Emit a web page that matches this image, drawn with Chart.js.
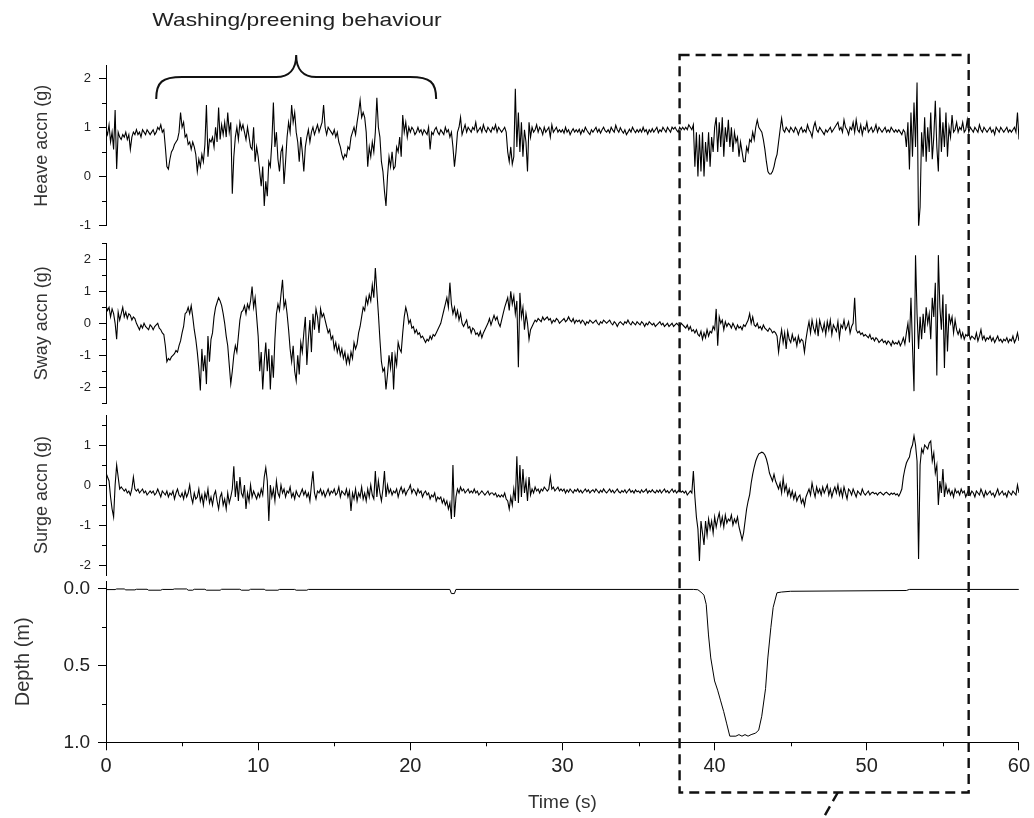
<!DOCTYPE html>
<html>
<head>
<meta charset="utf-8">
<script src="https://cdn.jsdelivr.net/npm/chart.js@4.4.0/dist/chart.umd.min.js"></script>
<style>
  html, body { margin: 0; padding: 0; background: #fff; }
  #wrap { position: relative; width: 1034px; height: 818px; overflow: hidden; }
  #wrap canvas { position: absolute; left: 0; top: 0; }
  #note {
    position: absolute; left: 297px; top: 9px;
    font: 19px "Liberation Sans", Arial, sans-serif; line-height: 22px; color: #222;
    white-space: nowrap; transform: translateX(-50%) scaleX(1.2);
  }
</style>
</head>
<body>
<div id="wrap">
  <canvas id="heaveChart" width="1034" height="818"></canvas>
  <canvas id="swayChart" width="1034" height="818"></canvas>
  <canvas id="surgeChart" width="1034" height="818"></canvas>
  <canvas id="depthChart" width="1034" height="818"></canvas>
  <div id="note">Washing/preening behaviour</div>
</div>
<script>
// ── Data (accelerations sampled every 0.1 s, one row per second) ──
const sampleStep = 0.1;

const heave = [
  0.95,0.85,1.05,0.7,0.9,0.55,1.35,0.15,0.9,0.8,
  0.75,0.85,0.8,0.9,0.75,0.85,0.55,0.8,0.9,0.85,
  0.95,0.85,0.9,0.8,0.95,0.9,0.85,0.95,0.9,0.85,
  0.9,0.95,0.85,0.9,1.0,0.95,1.05,0.9,0.95,0.6,
  0.2,0.15,0.35,0.5,0.55,0.65,0.7,0.75,0.9,1.3,
  1.0,1.1,0.8,0.85,0.65,0.7,0.55,0.7,0.6,0.45,
  0.1,0.35,0.2,0.45,0.3,0.65,1.45,0.4,0.75,0.7,
  0.8,0.6,1.0,0.7,1.4,0.75,1.05,0.85,1.1,0.8,
  1.3,0.9,1.1,-0.35,0.4,0.8,1.0,0.75,1.1,0.95,
  1.05,0.9,0.75,1.0,0.8,0.6,0.55,1.0,0.3,0.6,
  0.4,0.1,-0.2,0.2,-0.6,-0.1,-0.4,0.3,0.2,0.7,
  1.5,0.6,0.9,0.35,0.1,0.5,0.6,-0.15,0.3,0.8,
  1.1,0.9,1.45,1.1,1.3,0.9,0.7,0.3,0.8,0.5,
  0.1,0.6,0.8,0.95,0.7,0.9,1.0,0.85,0.95,1.05,
  0.9,1.0,1.1,1.45,1.0,0.85,1.0,0.95,0.9,0.85,
  0.95,0.8,0.9,0.7,0.6,0.45,0.35,0.45,0.4,0.6,
  0.55,0.8,0.9,1.0,0.85,1.1,1.3,1.55,1.2,1.3,
  1.2,0.9,0.2,0.6,0.4,0.7,0.5,0.9,1.6,1.0,
  0.8,0.3,0.1,-0.3,-0.6,0.0,0.4,0.2,0.5,0.15,
  0.2,0.6,0.5,0.8,0.4,1.25,0.9,1.1,0.8,1.0,
  0.9,1.0,0.95,0.85,0.9,1.0,0.9,0.95,0.85,0.95,
  0.9,0.85,1.0,0.55,0.9,0.85,0.95,1.0,0.9,0.85,
  0.95,0.9,0.85,1.0,0.9,0.95,0.8,0.9,0.6,0.2,
  0.5,0.9,1.0,1.2,0.85,0.95,1.05,0.9,1.0,0.95,
  0.9,1.0,0.95,1.1,0.9,0.95,1.0,0.9,1.05,0.95,
  0.9,1.0,0.95,0.9,1.0,0.95,1.05,0.9,1.0,0.95,
  0.9,0.95,1.0,0.9,0.5,0.3,0.6,0.25,0.4,1.78,
  0.6,1.3,0.5,1.1,0.4,0.95,0.7,0.1,1.1,0.8,
  1.0,0.9,0.95,1.05,0.9,1.0,0.95,0.85,1.0,0.9,
  0.95,1.0,0.8,1.05,0.9,0.95,1.0,0.9,0.95,0.9,
  0.95,0.88,1.0,0.9,0.95,0.85,0.92,0.97,0.9,0.95,
  0.9,0.96,0.86,0.95,0.9,1.0,0.94,0.89,0.85,0.95,
  0.9,0.95,1.0,0.9,0.96,0.88,0.95,1.0,0.93,0.9,
  0.95,0.89,1.0,0.94,0.9,1.04,0.95,0.9,0.99,0.93,
  0.88,0.95,0.85,0.9,0.96,0.9,1.0,0.94,0.89,0.95,
  0.9,0.96,0.9,1.0,0.91,0.95,0.86,0.95,0.9,0.97,
  0.9,0.95,1.0,0.89,0.95,0.91,1.0,0.95,0.9,1.0,
  0.95,0.9,1.0,0.96,1.0,0.94,0.9,1.0,0.95,1.0,
  0.95,1.0,0.95,1.05,1.0,0.95,1.05,0.2,0.9,0.0,
  0.85,0.1,0.9,0.0,0.7,0.3,0.9,0.2,0.8,0.5,
  1.0,1.2,0.5,1.1,0.6,1.2,0.4,1.0,0.7,1.15,
  0.6,1.0,0.5,0.9,0.7,0.8,0.4,0.7,0.5,0.3,
  0.3,0.6,0.5,0.75,0.7,0.9,0.75,1.0,1.15,1.0,
  0.95,0.9,0.75,0.55,0.3,0.1,0.05,0.05,0.1,0.2,
  0.35,0.45,0.7,0.95,1.18,0.95,0.9,1.0,0.95,0.9,
  1.0,0.95,0.9,1.0,0.95,0.85,0.95,1.0,0.9,0.95,
  0.9,1.05,0.95,0.9,0.8,1.0,1.1,0.95,0.9,1.0,
  0.95,0.9,0.85,0.95,0.9,0.95,1.0,0.9,0.95,1.0,
  1.05,1.1,0.95,1.0,0.9,1.15,1.0,0.95,0.85,1.0,
  0.95,1.1,0.9,1.15,0.95,0.9,1.05,0.85,1.0,0.95,
  1.1,0.9,0.95,1.0,0.9,0.95,1.05,0.9,1.0,0.95,
  0.9,0.95,1.0,0.9,0.95,0.9,1.0,0.95,0.9,0.95,
  0.9,0.95,0.9,0.85,0.95,0.9,0.6,1.1,0.14,1.3,
  0.4,1.5,0.6,1.91,-1.04,-0.62,0.9,0.4,1.2,0.3,
  1.0,0.5,1.3,0.35,0.8,1.54,0.6,0.1,1.4,0.5,
  1.1,0.6,1.3,0.4,1.0,0.8,1.25,0.9,0.95,1.1,
  0.9,1.0,0.95,1.1,0.9,0.95,1.15,0.9,1.0,0.95,
  0.9,1.0,0.95,0.9,1.05,0.95,0.9,1.0,0.95,0.9,
  0.95,1.0,0.9,0.95,0.85,1.0,0.95,0.9,1.0,0.95,
  0.9,0.95,1.0,0.9,0.95,0.9,0.95,1.0,0.9,1.3,
  0.75
];

const sway = [
  0.55,0.4,0.5,0.2,0.45,0.3,0.0,-0.5,0.35,0.1,
  0.3,0.5,0.2,0.35,0.15,0.3,0.25,0.1,0.2,0.15,
  0.0,-0.1,-0.2,-0.05,-0.15,0.0,-0.1,-0.15,-0.2,-0.05,
  -0.1,-0.2,-0.1,-0.05,0.0,-0.15,-0.2,-0.3,-0.35,-0.7,
  -1.2,-1.1,-1.15,-1.05,-1.0,-0.95,-0.85,-0.9,-0.7,-0.55,
  -0.3,-0.1,0.3,0.35,0.5,0.3,0.55,0.2,-0.2,-0.5,
  -0.9,-1.4,-2.1,-0.8,-1.5,-1.0,-1.9,-0.4,-1.2,-0.5,
  -0.3,0.2,0.5,0.65,0.8,0.7,0.55,0.3,0.0,-0.4,
  -0.7,-1.3,-1.89,-1.5,-1.0,-0.7,-0.9,-0.4,0.1,0.35,
  0.4,0.55,0.3,0.6,0.45,0.7,1.15,0.5,0.8,0.2,
  -0.4,-1.5,-0.9,-2.07,-1.2,-0.6,-1.5,-0.8,-2.07,-1.0,
  -1.7,-0.5,0.3,0.6,0.4,0.9,1.36,0.5,0.7,0.3,
  -0.2,-0.8,-1.2,-0.7,-1.5,-1.8,-1.0,-1.6,-0.6,-0.9,
  -0.3,0.2,-1.3,-0.5,0.1,-0.9,0.3,-0.2,0.45,0.2,
  -0.3,0.45,0.2,0.3,0.1,-0.1,-0.3,-0.2,-0.5,-0.4,
  -0.8,-0.6,-0.9,-0.7,-1.0,-0.8,-1.1,-0.9,-1.25,-1.0,
  -1.25,-0.9,-1.1,-0.6,-0.8,-0.65,-0.3,-0.1,0.2,0.5,
  0.4,0.8,0.6,0.9,0.7,1.2,0.8,1.73,1.0,0.3,
  -0.5,-1.2,-1.5,-1.4,-2.07,-1.6,-1.0,-1.4,-0.9,-2.07,
  -1.0,-1.3,-0.6,-0.8,-0.9,-0.3,0.2,0.5,0.3,0.0,
  0.1,-0.15,-0.1,-0.3,-0.2,-0.35,-0.3,-0.45,-0.4,-0.5,
  -0.6,-0.5,-0.55,-0.4,-0.5,-0.35,-0.4,-0.3,-0.2,-0.1,
  0.0,0.2,0.4,0.6,0.8,0.5,1.27,0.6,0.3,0.5,
  0.2,0.4,0.1,0.3,0.0,-0.1,0.0,0.1,-0.15,-0.1,
  -0.3,-0.15,-0.2,-0.35,-0.3,-0.4,-0.25,-0.45,-0.3,-0.2,
  -0.1,0.0,0.15,-0.05,0.1,0.25,0.1,0.2,0.0,-0.1,
  0.1,0.3,0.5,0.65,0.8,0.4,1.0,0.6,0.85,0.3,
  0.7,-1.37,0.95,0.2,0.5,-0.2,0.3,0.0,-0.5,-0.2,
  -0.1,0.0,0.1,0.05,0.15,0.1,0.05,0.2,0.1,0.15,
  0.2,0.1,0.15,0.0,0.1,0.05,0.15,0.1,0.0,0.05,
  0.1,0.15,0.05,0.1,0.2,0.1,0.05,0.15,0.0,0.1,
  0.05,0.1,0.0,0.1,0.05,-0.05,0.05,0.0,0.1,0.05,
  0.0,0.05,0.1,0.0,-0.05,0.05,0.0,0.1,0.05,0.0,
  0.05,0.1,0.0,-0.05,0.05,0.0,-0.1,0.0,0.05,0.0,
  -0.05,0.05,0.0,0.1,0.0,-0.05,0.05,0.0,-0.05,0.05,
  0.0,-0.05,0.05,0.0,-0.1,0.0,-0.05,0.05,0.0,-0.05,
  0.0,-0.1,-0.05,0.0,0.05,-0.05,0.0,-0.1,-0.05,0.0,
  -0.1,-0.05,0.0,-0.1,-0.05,0.0,-0.05,-0.1,0.0,-0.05,
  -0.1,-0.15,-0.05,-0.2,-0.1,-0.25,-0.2,-0.3,-0.2,-0.35,
  -0.4,-0.25,-0.5,-0.3,-0.45,-0.2,-0.4,-0.25,-0.3,-0.1,
  -0.2,0.45,-0.7,0.2,0.0,0.1,-0.2,0.05,-0.1,0.0,
  -0.05,-0.15,0.0,-0.1,-0.2,-0.05,-0.15,-0.1,-0.2,-0.05,
  -0.1,0.0,0.1,0.3,0.0,0.2,-0.05,-0.1,0.0,-0.15,
  -0.1,-0.2,-0.05,-0.15,-0.2,-0.25,-0.15,-0.2,-0.3,-0.25,
  -0.3,-0.4,-0.9,-0.5,-0.2,-0.6,-0.3,-0.8,-0.25,-0.5,
  -0.6,-0.35,-0.55,-0.45,-0.7,-0.4,-0.6,-0.5,-0.55,-0.9,
  -0.5,-0.2,0.05,-0.3,0.1,-0.15,-0.3,0.05,-0.4,0.1,
  -0.1,-0.25,0.0,-0.35,0.05,-0.2,0.1,-0.35,-0.05,-0.15,
  -0.25,0.05,-0.45,-0.05,-0.15,0.1,-0.2,-0.1,0.05,-0.3,
  -0.1,0.0,0.8,-0.2,-0.3,-0.25,-0.35,-0.3,-0.4,-0.35,
  -0.4,-0.45,-0.35,-0.5,-0.45,-0.55,-0.45,-0.5,-0.6,-0.55,
  -0.5,-0.6,-0.55,-0.65,-0.55,-0.6,-0.7,-0.55,-0.65,-0.6,
  -0.65,-0.55,-0.7,-0.6,-0.45,-0.65,-0.3,0.0,-0.6,0.8,
  -0.7,-2.12,2.13,0.3,-0.8,0.2,-0.5,0.3,-0.3,0.5,
  0.0,0.3,-0.5,0.8,0.2,1.27,-1.63,2.13,0.5,-0.2,
  0.9,-1.4,0.6,-0.88,0.3,0.0,0.2,-0.3,0.1,-0.2,
  -0.35,-0.2,-0.45,-0.3,-0.5,-0.35,-0.4,-0.3,-0.5,-0.4,
  -0.45,-0.5,-0.3,-0.55,-0.4,-0.2,-0.5,-0.4,-0.55,-0.45,
  -0.5,-0.4,-0.55,-0.45,-0.6,-0.5,-0.4,-0.55,-0.5,-0.6,
  -0.5,-0.55,-0.45,-0.6,-0.5,-0.55,-0.4,-0.6,-0.5,-0.3,
  -0.55
];

const surge = [
  0.3,0.2,0.1,-0.3,-0.6,-0.8,0.0,0.5,0.2,-0.1,
  -0.05,-0.1,-0.15,-0.1,-0.2,-0.15,-0.25,-0.1,0.2,-0.1,
  -0.15,-0.1,-0.2,-0.15,-0.1,-0.2,-0.15,-0.25,-0.2,-0.15,
  -0.2,-0.15,-0.25,-0.2,-0.1,-0.2,-0.3,-0.15,-0.2,-0.25,
  -0.15,-0.3,-0.2,-0.25,-0.15,-0.35,-0.2,-0.1,-0.25,-0.3,
  -0.2,-0.35,-0.15,-0.3,-0.2,0.0,-0.3,-0.45,-0.2,-0.35,
  -0.3,-0.1,-0.4,-0.25,-0.5,-0.2,-0.35,-0.1,-0.45,-0.3,
  -0.5,-0.25,-0.15,-0.4,-0.6,-0.3,-0.2,-0.5,-0.35,-0.6,
  -0.2,-0.45,-0.3,-0.1,0.47,-0.3,0.1,-0.4,0.2,-0.2,
  -0.3,0.0,-0.6,-0.2,-0.4,0.0,-0.3,-0.15,-0.25,-0.35,
  -0.2,-0.3,-0.1,-0.25,0.2,0.43,0.1,-0.9,0.0,-0.3,
  -0.1,-0.4,0.1,-0.2,-0.3,0.0,-0.2,-0.1,-0.3,-0.15,
  -0.2,-0.05,-0.3,-0.2,-0.35,-0.15,-0.25,-0.3,-0.2,-0.1,
  -0.25,-0.15,-0.3,-0.2,-0.4,0.0,0.34,-0.2,-0.35,-0.15,
  -0.2,-0.1,-0.25,-0.15,-0.3,-0.2,-0.1,-0.25,-0.15,-0.2,
  -0.1,-0.25,-0.2,-0.05,-0.3,-0.15,-0.2,-0.25,-0.1,-0.3,
  -0.15,-0.65,-0.2,-0.35,-0.1,-0.4,-0.2,-0.3,-0.05,-0.35,
  -0.2,-0.4,-0.1,-0.3,0.0,-0.25,-0.35,0.35,-0.3,0.1,
  -0.2,-0.4,-0.1,0.35,-0.3,0.0,-0.2,-0.1,-0.25,-0.15,
  -0.2,-0.1,-0.3,-0.15,-0.05,-0.2,-0.1,-0.25,-0.15,-0.1,
  0.0,-0.2,-0.1,-0.15,-0.25,-0.1,-0.2,-0.15,-0.3,-0.2,
  -0.15,-0.25,-0.2,-0.35,-0.25,-0.3,-0.2,-0.4,-0.3,-0.35,
  -0.3,-0.45,-0.35,-0.5,-0.4,-0.6,-0.45,-0.85,0.5,-0.8,
  -0.3,-0.1,-0.2,-0.05,-0.15,-0.1,-0.2,-0.15,-0.1,-0.2,
  -0.15,-0.2,-0.1,-0.2,-0.15,-0.25,-0.2,-0.15,-0.2,-0.25,
  -0.2,-0.15,-0.25,-0.2,-0.2,-0.25,-0.2,-0.3,-0.25,-0.3,
  -0.25,-0.3,-0.2,-0.35,-0.4,-0.6,-0.3,-0.5,-0.1,-0.4,
  0.72,-0.45,0.5,-0.3,0.4,-0.2,0.1,-0.4,0.2,-0.25,
  -0.1,-0.2,-0.05,-0.15,-0.1,-0.2,-0.1,-0.15,-0.05,-0.1,
  -0.15,-0.1,0.2,-0.1,-0.05,-0.15,-0.1,-0.05,-0.15,-0.1,
  -0.15,-0.1,-0.2,-0.12,-0.18,-0.1,-0.15,-0.2,-0.12,-0.16,
  -0.1,-0.18,-0.13,-0.2,-0.15,-0.1,-0.17,-0.12,-0.2,-0.15,
  -0.12,-0.18,-0.1,-0.15,-0.2,-0.13,-0.18,-0.1,-0.16,-0.2,
  -0.15,-0.1,-0.18,-0.13,-0.2,-0.15,-0.1,-0.17,-0.2,-0.14,
  -0.18,-0.12,-0.2,-0.15,-0.1,-0.18,-0.14,-0.2,-0.12,-0.17,
  -0.15,-0.2,-0.12,-0.18,-0.15,-0.1,-0.2,-0.14,-0.18,-0.12,
  -0.17,-0.2,-0.13,-0.18,-0.12,-0.2,-0.15,-0.1,-0.18,-0.14,
  -0.2,-0.15,-0.1,-0.18,-0.13,-0.2,-0.15,-0.12,-0.18,-0.15,
  -0.2,-0.15,-0.25,-0.2,-0.15,-0.2,0.35,-0.3,-0.8,-1.1,
  -1.9,-0.9,-1.2,-1.5,-0.9,-1.25,-0.85,-1.1,-0.9,-1.2,
  -0.8,-1.05,-0.85,-0.7,-1.0,-0.8,-1.05,-0.75,-0.95,-0.85,
  -0.9,-0.75,-1.0,-0.85,-0.95,-0.8,-1.05,-1.2,-1.37,-1.2,
  -0.9,-0.6,-0.4,-0.24,0.05,0.27,0.45,0.6,0.7,0.78,
  0.8,0.82,0.8,0.75,0.65,0.5,0.3,0.2,0.1,0.27,
  0.1,0.0,-0.1,0.05,-0.2,0.17,-0.15,0.0,-0.25,-0.1,
  -0.3,-0.15,-0.35,-0.2,-0.4,-0.3,-0.25,-0.45,-0.35,-0.52,
  -0.3,-0.2,-0.1,-0.25,0.05,-0.15,-0.3,-0.05,-0.2,-0.1,
  -0.25,-0.05,-0.2,-0.1,0.0,-0.25,-0.1,-0.3,-0.15,-0.05,
  -0.2,0.0,-0.25,-0.1,-0.3,-0.05,-0.2,-0.35,-0.1,-0.15,
  -0.25,-0.1,-0.2,-0.3,-0.15,-0.2,-0.25,-0.1,-0.2,-0.25,
  -0.2,-0.15,-0.25,-0.2,-0.18,-0.22,-0.2,-0.25,-0.2,-0.18,
  -0.22,-0.25,-0.2,-0.18,-0.22,-0.25,-0.2,-0.23,-0.2,-0.25,
  -0.22,-0.28,-0.2,-0.1,0.2,0.4,0.55,0.63,0.7,0.9,
  1.0,1.23,1.0,0.6,-1.85,0.5,0.9,0.8,1.0,0.95,
  0.9,1.05,1.1,0.6,0.8,0.3,0.5,-0.5,0.1,-0.2,
  0.4,-0.3,0.0,-0.2,-0.1,-0.25,-0.15,-0.3,-0.1,-0.2,
  -0.15,-0.25,-0.1,-0.2,-0.15,-0.3,-0.2,-0.1,-0.25,-0.15,
  -0.2,-0.3,-0.15,-0.2,-0.25,-0.1,-0.2,-0.3,-0.15,-0.25,
  -0.2,-0.15,-0.25,-0.2,-0.3,-0.2,-0.1,-0.25,-0.2,-0.15,
  -0.25,-0.2,-0.3,-0.15,-0.2,-0.25,-0.15,-0.2,-0.25,0.0,
  -0.2
];

// Depth record (irregular time stamps, s -> m)
const depthTime = [
  0,0.6,0.7,1.2,1.3,1.9,2.0,2.7,2.8,3.6,3.7,4.4,4.5,5.3,5.4,5.7,5.8,6.5,6.6,7.5,
  7.6,8.8,8.9,9.4,9.5,10.4,10.5,11.3,11.4,12.4,12.5,13.2,13.3,22.6,22.7,22.9,23.0,
  38.6,38.9,39.1,39.3,39.45,39.6,39.75,40.0,40.2,40.4,40.6,40.8,41.0,41.4,41.6,41.8,
  42.0,42.2,42.4,42.7,42.9,43.1,43.35,43.5,43.7,43.85,44.1,44.4,45.0,52.6,52.8,60
];
const depthValues = [
  0.004,0.004,0.0,0.0,0.006,0.006,0.002,0.002,0.008,0.008,0.003,0.003,0.0,0.0,0.008,0.008,0.002,0.002,0.008,0.008,
  0.002,0.002,0.008,0.008,0.002,0.002,0.008,0.008,0.003,0.003,0.008,0.008,0.003,0.003,0.03,0.03,0.003,
  0.003,0.005,0.02,0.04,0.1,0.3,0.45,0.6,0.66,0.73,0.8,0.88,0.96,0.96,0.95,0.96,
  0.95,0.96,0.95,0.94,0.92,0.83,0.65,0.45,0.25,0.12,0.025,0.02,0.015,0.01,0.003,0.003
];

// Tick values
const heaveTicks = [-1, 0, 1, 2],            heaveMinor = [-0.5, 0.5, 1.5];
const swayTicks  = [-2, -1, 0, 1, 2],        swayMinor  = [-2.5, -1.5, -0.5, 0.5, 1.5, 2.5];
const surgeTicks = [-2, -1, 0, 1],           surgeMinor = [-1.5, -0.5, 0.5, 1.5];
const depthTicks = [0, 0.5, 1],              depthMinor = [0.25, 0.75];
const timeTicks  = [0, 10, 20, 30, 40, 50, 60], timeMinor = [5, 15, 25, 35, 45, 55];

// Annotation spans (s)
const washingFrom = 3.3, washingTo = 21.7;
const diveBoxFrom = 37.7, diveBoxTo = 56.7;

// ── Shared settings ───────────────────────────
Chart.defaults.font.family = '"Liberation Sans", Arial, sans-serif';
Chart.defaults.color = '#222';
const INK = '#000';
const AXIS_W = 106;   // px reserved left of every plot area

const toPoints = values => values.map((v, i) => ({ x: Math.round(i * sampleStep * 10) / 10, y: v }));

// Short minor tick marks, drawn on the library's scales
const minorTicks = {
  id: 'minorTicks',
  afterDraw(chart, args, opts) {
    const ctx = chart.ctx;
    ctx.save();
    ctx.strokeStyle = INK;
    ctx.lineWidth = 1;
    const ys = chart.scales.y;
    (opts.y || []).forEach(v => {
      const py = Math.round(ys.getPixelForValue(v)) + 0.5;
      ctx.beginPath(); ctx.moveTo(ys.right - 4, py); ctx.lineTo(ys.right, py); ctx.stroke();
    });
    const xs = chart.scales.x;
    (opts.x || []).forEach(v => {
      const px = Math.round(xs.getPixelForValue(v)) + 0.5;
      ctx.beginPath(); ctx.moveTo(px, xs.top); ctx.lineTo(px, xs.top + 4); ctx.stroke();
    });
    ctx.restore();
  }
};

// Brace over the washing bout, dashed box round the dive
const annotations = {
  id: 'annotations',
  afterDraw(chart) {
    const ctx = chart.ctx, xs = chart.scales.x;
    ctx.save();
    ctx.strokeStyle = '#111';

    const L = xs.getPixelForValue(washingFrom), R = xs.getPixelForValue(washingTo), M = (L + R) / 2;
    const yEnd = 99, yBar = 77, yTip = 55;
    ctx.lineWidth = 2;
    ctx.beginPath();
    ctx.moveTo(L, yEnd);
    ctx.bezierCurveTo(L, yBar + 5, L + 6, yBar, L + 26, yBar);
    ctx.lineTo(M - 20, yBar);
    ctx.bezierCurveTo(M - 7, yBar, M, yBar - 8, M, yTip);
    ctx.bezierCurveTo(M, yBar - 8, M + 7, yBar, M + 20, yBar);
    ctx.lineTo(R - 26, yBar);
    ctx.bezierCurveTo(R - 6, yBar, R, yBar + 5, R, yEnd);
    ctx.stroke();

    const x1 = xs.getPixelForValue(diveBoxFrom), x2 = xs.getPixelForValue(diveBoxTo);
    const top = 55, bottom = 792.5;
    ctx.lineWidth = 2.4;
    ctx.setLineDash([10, 6]);
    ctx.strokeRect(x1, top, x2 - x1, bottom - top);
    ctx.beginPath();
    ctx.moveTo(xs.getPixelForValue(48.1), bottom);
    ctx.lineTo(xs.getPixelForValue(47.15), 818);
    ctx.stroke();
    ctx.restore();
  }
};

function yAxis(cfg) {
  return {
    type: 'linear',
    min: cfg.min, max: cfg.max, reverse: !!cfg.reverse,
    afterFit: s => { s.width = AXIS_W; },
    afterBuildTicks: s => { s.ticks = cfg.ticks.map(v => ({ value: v })); },
    border: { display: true, color: INK, width: 1 },
    grid: { drawOnChartArea: false, drawTicks: true, tickLength: cfg.tickLength, color: INK },
    ticks: { padding: 8, font: { size: cfg.tickSize }, color: '#222', callback: cfg.format || (v => String(v)) },
    title: { display: true, text: cfg.title, font: { size: cfg.titleSize }, color: '#333', padding: { top: cfg.titlePad, bottom: 0 } }
  };
}

function accPanel(id, values, top, bottom, axisCfg) {
  return new Chart(document.getElementById(id), {
    type: 'line',
    data: { datasets: [{ data: toPoints(values), borderColor: INK, borderWidth: 1.1, pointRadius: 0, tension: 0 }] },
    plugins: [minorTicks],
    options: {
      responsive: false, animation: false, events: [],
      layout: { padding: { left: 0, right: 15, top: top, bottom: 818 - bottom } },
      plugins: { legend: { display: false }, tooltip: { enabled: false }, minorTicks: { y: axisCfg.minor } },
      scales: {
        x: { type: 'linear', min: 0, max: 60, display: false },
        y: yAxis(Object.assign({ tickLength: 7, tickSize: 13, titleSize: 18, titlePad: 31 }, axisCfg))
      }
    }
  });
}

accPanel('heaveChart', heave, 65.7, 225.7, { min: -1, max: 2.25, ticks: heaveTicks, minor: heaveMinor, title: 'Heave accn (g)' });
accPanel('swayChart', sway, 243.3, 403.3, { min: -2.5, max: 2.5, ticks: swayTicks, minor: swayMinor, title: 'Sway accn (g)' });
accPanel('surgeChart', surge, 415, 575, { min: -2.25, max: 1.75, ticks: surgeTicks, minor: surgeMinor, title: 'Surge accn (g)' });

new Chart(document.getElementById('depthChart'), {
  type: 'line',
  data: {
    datasets: [{
      data: depthTime.map((t, i) => ({ x: t, y: depthValues[i] })),
      borderColor: INK, borderWidth: 1, pointRadius: 0, tension: 0
    }]
  },
  plugins: [minorTicks, annotations],
  options: {
    responsive: false, animation: false, events: [],
    layout: { padding: { left: 0, right: 15, top: 581.3, bottom: 0 } },
    plugins: { legend: { display: false }, tooltip: { enabled: false }, minorTicks: { y: depthMinor, x: timeMinor } },
    scales: {
      x: {
        type: 'linear', min: 0, max: 60,
        afterFit: s => { s.height = 75.7; },
        afterBuildTicks: s => { s.ticks = timeTicks.map(v => ({ value: v })); },
        border: { display: true, color: INK, width: 1 },
        grid: { drawOnChartArea: false, drawTicks: true, tickLength: 8, color: INK },
        ticks: { padding: 4, autoSkip: false, maxRotation: 0, font: { size: 20 }, color: '#222' },
        title: { display: true, text: 'Time (s)', font: { size: 19 }, color: '#333', padding: { top: 0, bottom: 4 } }
      },
      y: yAxis({
        min: -0.05, max: 1, reverse: true, ticks: depthTicks, title: 'Depth (m)',
        tickLength: 8, tickSize: 19, titleSize: 20, titlePad: 11, format: v => v.toFixed(1)
      })
    }
  }
});
</script>
</body>
</html>
